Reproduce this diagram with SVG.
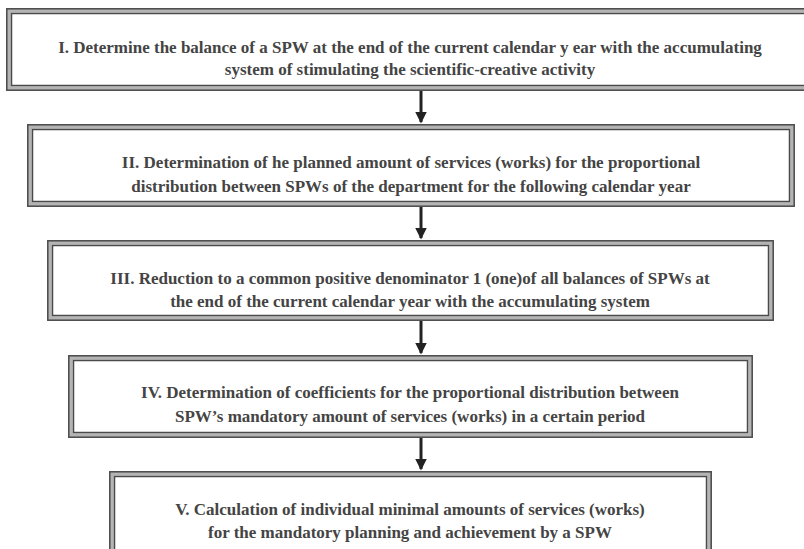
<svg xmlns="http://www.w3.org/2000/svg" width="804" height="549" viewBox="0 0 804 549">
<defs>
<style>
.o{fill:#fff;stroke:#b4b4b4;stroke-width:4.5}
.d{fill:none;stroke:#4a4a4a;stroke-width:1.5}
.t{font-family:"Liberation Serif","Times New Roman",serif;font-size:17px;font-weight:bold;fill:#444;text-anchor:middle}
.c{stroke:#222;stroke-width:3}
</style>
<marker id="ah" markerWidth="4" markerHeight="4" refX="3.5" refY="2" orient="auto" markerUnits="strokeWidth">
<path d="M0,0 L4,2 L0,4 Z" fill="#222"/>
</marker>
</defs>
<rect width="804" height="549" fill="#fff"/>
<g id="connectors">
<line class="c" x1="421" y1="91" x2="421" y2="122" marker-end="url(#ah)"/>
<line class="c" x1="421" y1="207" x2="421" y2="238" marker-end="url(#ah)"/>
<line class="c" x1="421" y1="321" x2="421" y2="353" marker-end="url(#ah)"/>
<line class="c" x1="421" y1="438" x2="421" y2="469" marker-end="url(#ah)"/>
</g>
<g id="n1">
<rect class="o" x="8.5" y="10.5" width="806" height="78"/>
<rect class="d" x="6.8" y="8.8" width="810" height="81.4"/>
<rect class="d" x="11.5" y="13.5" width="800" height="72"/>
<text class="t" x="410" y="53">I. Determine the balance of a SPW at the end of the current calendar y ear with the accumulating</text>
<text class="t" x="410" y="75">system of stimulating the scientific-creative activity</text>
</g>
<g id="n2">
<rect class="o" x="29.5" y="126.5" width="763" height="78"/>
<rect class="d" x="27.8" y="124.8" width="766.4" height="81.4"/>
<rect class="d" x="32.5" y="129.5" width="757" height="72"/>
<text class="t" x="411" y="168">II. Determination of he planned amount of services (works) for the proportional</text>
<text class="t" x="411" y="192">distribution between SPWs of the department for the following calendar year</text>
</g>
<g id="n3">
<rect class="o" x="49.5" y="242.5" width="722" height="76"/>
<rect class="d" x="47.8" y="240.8" width="725.4" height="79.4"/>
<rect class="d" x="52.5" y="245.5" width="716" height="70"/>
<text class="t" x="410" y="284">III. Reduction to a common positive denominator 1 (one)of all balances of SPWs at</text>
<text class="t" x="410" y="307">the end of the current calendar year with the accumulating system</text>
</g>
<g id="n4">
<rect class="o" x="70.5" y="357.5" width="680" height="78"/>
<rect class="d" x="68.8" y="355.8" width="683.4" height="81.4"/>
<rect class="d" x="73.5" y="360.5" width="674" height="72"/>
<text class="t" x="410" y="398">IV. Determination of coefficients for the proportional distribution between</text>
<text class="t" x="410" y="422">SPW’s mandatory amount of services (works) in a certain period</text>
</g>
<g id="n5">
<rect class="o" x="111.5" y="473.5" width="598" height="90"/>
<rect class="d" x="109.8" y="471.8" width="601.4" height="93.4"/>
<rect class="d" x="114.5" y="476.5" width="592" height="84"/>
<text class="t" x="410" y="515">V. Calculation of individual minimal amounts of services (works)</text>
<text class="t" x="410" y="538">for the mandatory planning and achievement by a SPW</text>
</g>
</svg>
